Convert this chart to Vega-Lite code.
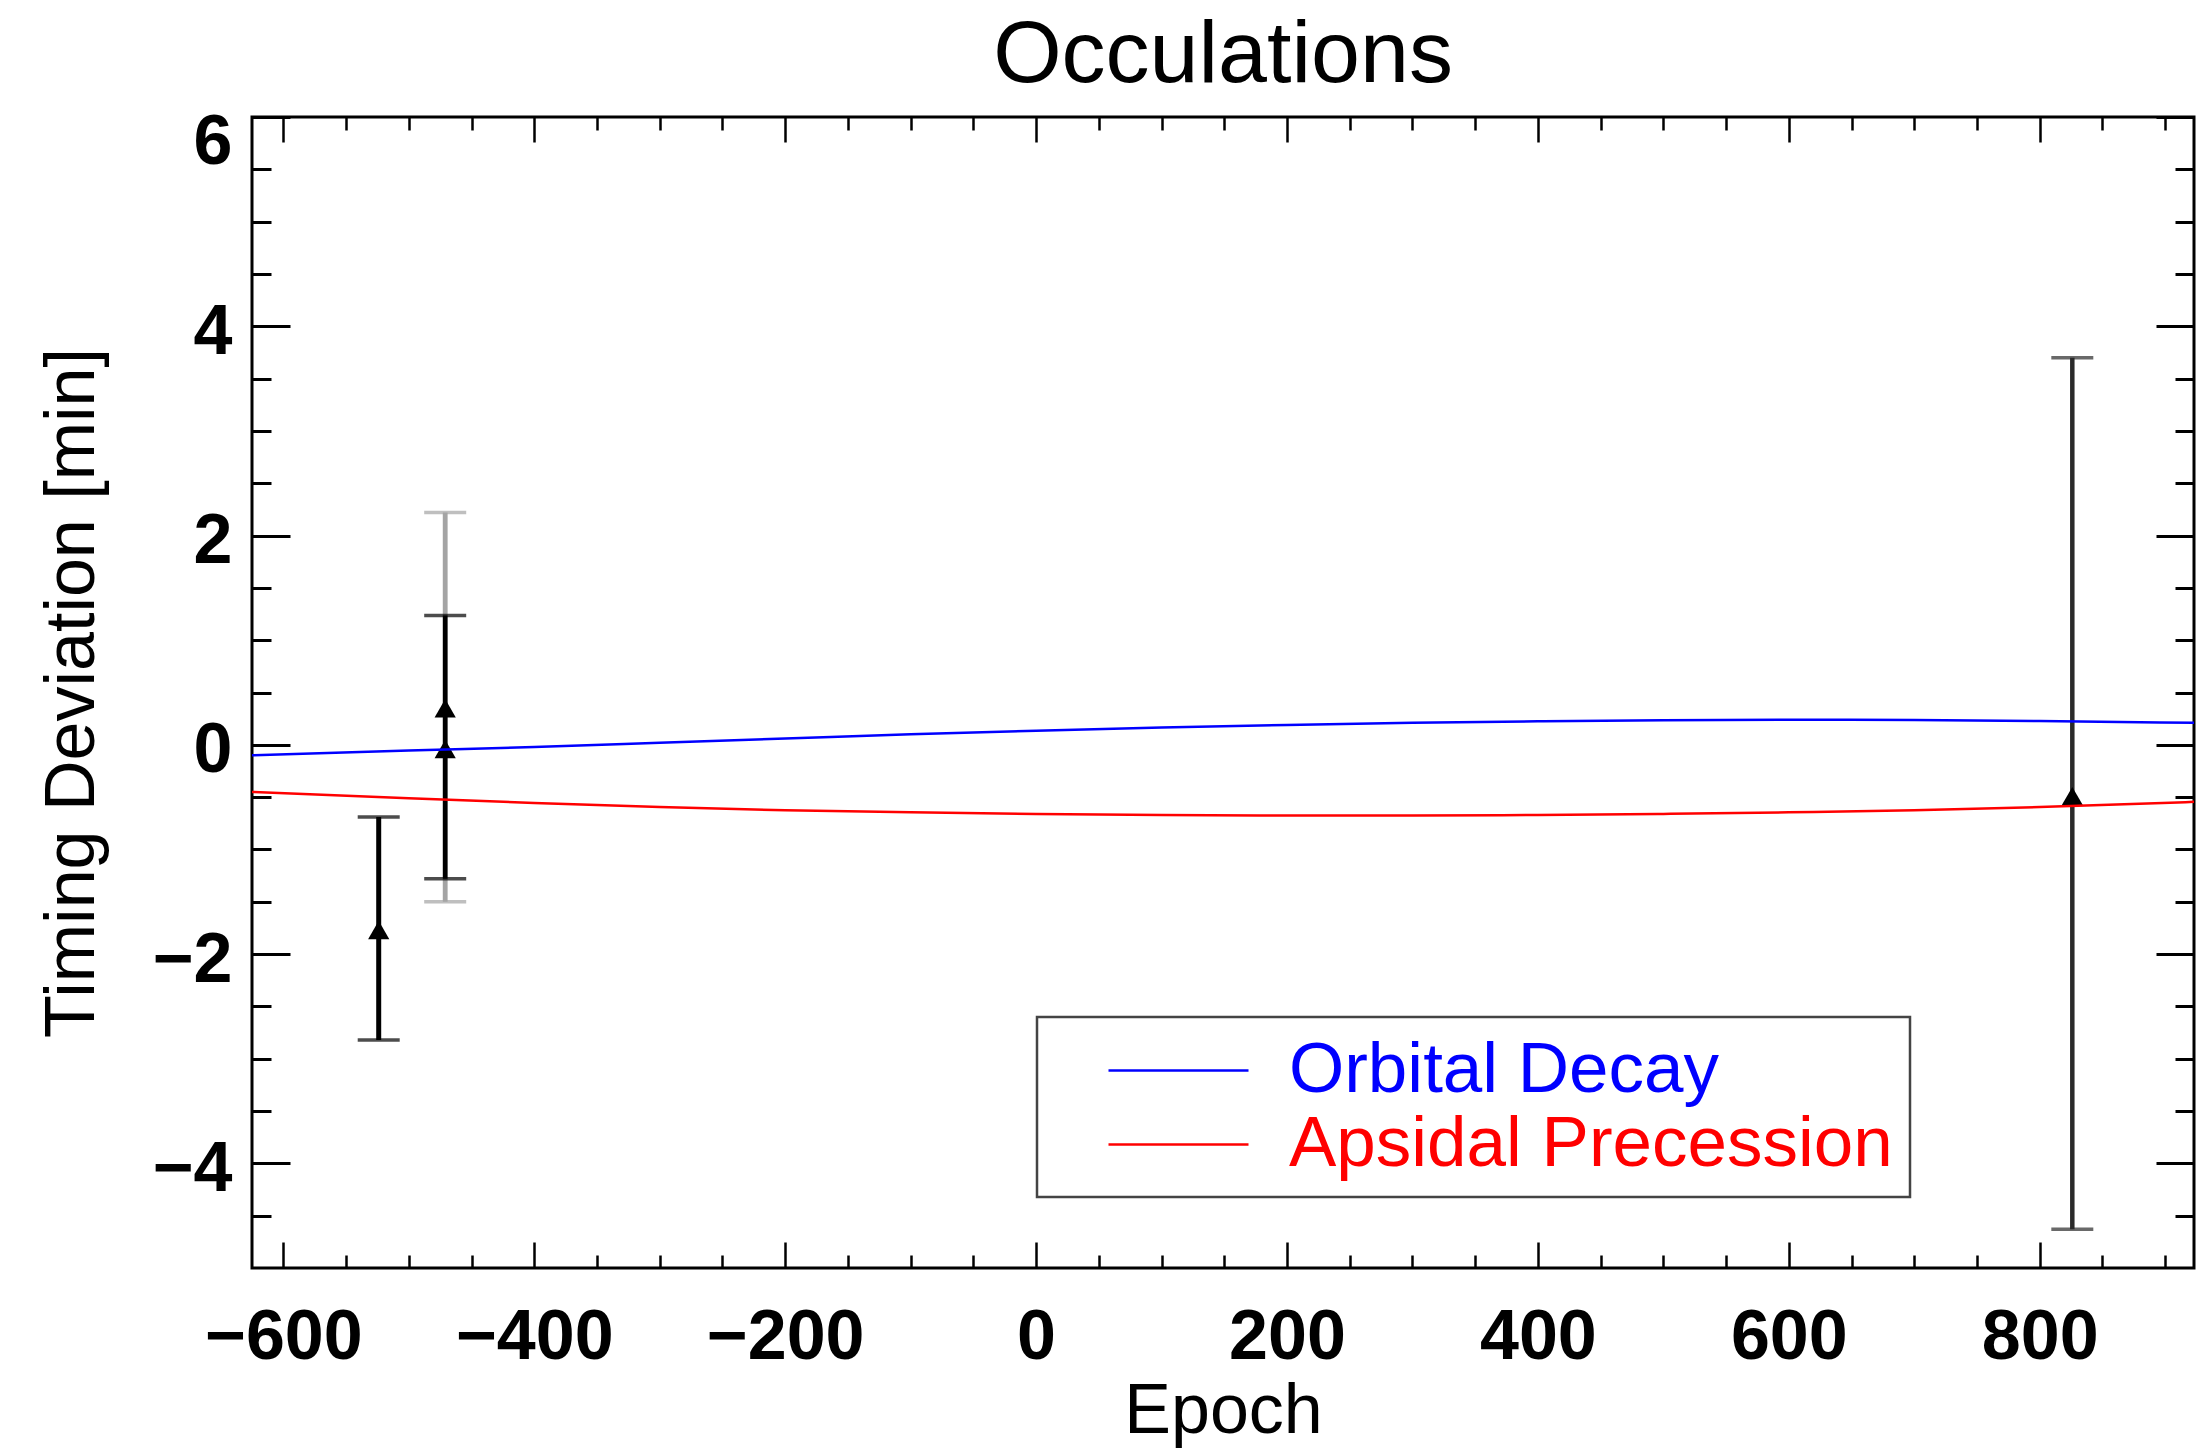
{
  "$schema": "https://vega.github.io/schema/vega-lite/v6.json",
  "width": 1942,
  "height": 1151,
  "autosize": {"type": "none"},
  "padding": {"left": 252, "top": 117, "right": 3, "bottom": 181},
  "background": "white",
  "title": {"text": "Occulations", "fontSize": 88, "font": "Liberation Sans", "fontWeight": "normal", "offset": 7, "anchor": "middle", "color": "#000"},
  "config": {
    "view": {"stroke": "#000", "strokeWidth": 3},
    "axis": {"grid": false, "domain": false, "tickColor": "#000", "labelFont": "Liberation Sans", "labelFontWeight": "bold", "labelFontSize": 70, "labelColor": "#000", "titleFont": "Liberation Sans", "titleFontWeight": "normal", "titleFontSize": 70, "titleColor": "#000", "labelOverlap": false, "minExtent": 0},
    "legend": {"strokeColor": "#444", "strokeWidth": 2.5, "padding": 17, "fillColor": "#fff"}
  },
  "datasets": {
    "err": [
      {"set": "S2g", "epoch": -471, "y": 0.35, "lo": -1.50, "hi": 2.22},
      {"set": "S1", "epoch": -524, "y": -1.77, "lo": -2.82, "hi": -0.69},
      {"set": "S2", "epoch": -471, "y": -0.04, "lo": -1.28, "hi": 1.235},
      {"set": "S3", "epoch": 826, "y": -0.49, "lo": -4.63, "hi": 3.70}
    ],
    "models": [
      {"series": "Orbital Decay", "epoch": -625, "dev": -0.10},
      {"series": "Orbital Decay", "epoch": -500, "dev": -0.055},
      {"series": "Orbital Decay", "epoch": -400, "dev": -0.02},
      {"series": "Orbital Decay", "epoch": -300, "dev": 0.02},
      {"series": "Orbital Decay", "epoch": -200, "dev": 0.06},
      {"series": "Orbital Decay", "epoch": -100, "dev": 0.10},
      {"series": "Orbital Decay", "epoch": 0, "dev": 0.135},
      {"series": "Orbital Decay", "epoch": 100, "dev": 0.165},
      {"series": "Orbital Decay", "epoch": 200, "dev": 0.19},
      {"series": "Orbital Decay", "epoch": 300, "dev": 0.21},
      {"series": "Orbital Decay", "epoch": 400, "dev": 0.225},
      {"series": "Orbital Decay", "epoch": 500, "dev": 0.235},
      {"series": "Orbital Decay", "epoch": 600, "dev": 0.24},
      {"series": "Orbital Decay", "epoch": 700, "dev": 0.238},
      {"series": "Orbital Decay", "epoch": 800, "dev": 0.228},
      {"series": "Orbital Decay", "epoch": 923, "dev": 0.21},
      {"series": "Apsidal Precession", "epoch": -625, "dev": -0.45},
      {"series": "Apsidal Precession", "epoch": -500, "dev": -0.51},
      {"series": "Apsidal Precession", "epoch": -400, "dev": -0.555},
      {"series": "Apsidal Precession", "epoch": -300, "dev": -0.595},
      {"series": "Apsidal Precession", "epoch": -200, "dev": -0.625},
      {"series": "Apsidal Precession", "epoch": -100, "dev": -0.645},
      {"series": "Apsidal Precession", "epoch": 0, "dev": -0.66},
      {"series": "Apsidal Precession", "epoch": 100, "dev": -0.67},
      {"series": "Apsidal Precession", "epoch": 200, "dev": -0.675},
      {"series": "Apsidal Precession", "epoch": 300, "dev": -0.675},
      {"series": "Apsidal Precession", "epoch": 400, "dev": -0.67},
      {"series": "Apsidal Precession", "epoch": 500, "dev": -0.66},
      {"series": "Apsidal Precession", "epoch": 600, "dev": -0.645},
      {"series": "Apsidal Precession", "epoch": 700, "dev": -0.625},
      {"series": "Apsidal Precession", "epoch": 800, "dev": -0.595},
      {"series": "Apsidal Precession", "epoch": 923, "dev": -0.545}
    ]
  },
  "resolve": {"axis": {"x": "independent", "y": "independent"}},
  "layer": [
    {
      "data": {"name": "err"},
      "mark": {"type": "rule"},
      "encoding": {
        "x": {"field": "epoch", "type": "quantitative", "scale": {"domain": [-625, 923], "nice": false, "zero": false},
          "axis": {"orient": "bottom", "values": [-550, -500, -450, -350, -300, -250, -150, -100, -50, 50, 100, 150, 250, 300, 350, 450, 500, 550, 650, 700, 750, 850, 900], "labels": false, "tickSize": -13, "tickWidth": 2.5, "title": null}},
        "y": {"field": "lo", "type": "quantitative", "scale": {"domain": [-5, 6], "nice": false, "zero": false},
          "axis": {"orient": "left", "values": [5.5, 5, 4.5, 3.5, 3, 2.5, 1.5, 1, 0.5, -0.5, -1, -1.5, -2.5, -3, -3.5, -4.5], "labels": false, "tickSize": -19, "tickWidth": 3, "title": null}},
        "y2": {"field": "hi"},
        "stroke": {"field": "set", "type": "nominal", "scale": {"domain": ["S1", "S2g", "S2", "S3"], "range": ["#000000", "#a4a4a4", "#000000", "#2a2a2a"]}, "legend": null},
        "strokeWidth": {"field": "set", "type": "nominal", "scale": {"domain": ["S1", "S2g", "S2", "S3"], "range": [5, 4.5, 3.5, 3]}, "legend": null}
      }
    },
    {
      "data": {"name": "err"},
      "transform": [{"fold": ["lo", "hi"], "as": ["end", "yv"]}],
      "mark": {"type": "tick", "orient": "horizontal", "size": 42, "thickness": 3.5},
      "encoding": {
        "x": {"field": "epoch", "type": "quantitative", "scale": {"domain": [-625, 923], "nice": false, "zero": false},
          "axis": {"orient": "top", "values": [-600, -400, -200, 0, 200, 400, 600, 800], "labels": false, "tickSize": -25, "tickWidth": 2.5, "title": null}},
        "y": {"field": "yv", "type": "quantitative", "scale": {"domain": [-5, 6], "nice": false, "zero": false},
          "axis": {"orient": "right", "values": [-4, -2, 0, 2, 4, 6], "labels": false, "tickSize": -38, "tickWidth": 3, "title": null}},
        "fill": {"field": "set", "type": "nominal", "scale": {"domain": ["S1", "S2g", "S2", "S3"], "range": ["#000000", "#a4a4a4", "#000000", "#2a2a2a"]}, "legend": null}
      }
    },
    {
      "data": {"name": "err"},
      "mark": {"type": "point", "shape": "triangle-up", "filled": true, "size": 450, "color": "#000", "opacity": 1},
      "encoding": {
        "x": {"field": "epoch", "type": "quantitative", "scale": {"domain": [-625, 923], "nice": false, "zero": false},
          "axis": {"orient": "top", "values": [-550, -500, -450, -350, -300, -250, -150, -100, -50, 50, 100, 150, 250, 300, 350, 450, 500, 550, 650, 700, 750, 850, 900], "labels": false, "tickSize": -13, "tickWidth": 2.5, "title": null}},
        "y": {"field": "y", "type": "quantitative", "scale": {"domain": [-5, 6], "nice": false, "zero": false},
          "axis": {"orient": "right", "values": [5.5, 5, 4.5, 3.5, 3, 2.5, 1.5, 1, 0.5, -0.5, -1, -1.5, -2.5, -3, -3.5, -4.5], "labels": false, "tickSize": -19, "tickWidth": 3, "title": null}}
      }
    },
    {
      "data": {"name": "models"},
      "mark": {"type": "line", "strokeWidth": 2.5, "interpolate": "monotone"},
      "encoding": {
        "x": {"field": "epoch", "type": "quantitative", "scale": {"domain": [-625, 923], "nice": false, "zero": false},
          "axis": {"orient": "bottom", "values": [-600, -400, -200, 0, 200, 400, 600, 800], "tickSize": -26, "tickWidth": 2.5, "labelPadding": 61, "title": "Epoch", "titlePadding": 5}},
        "y": {"field": "dev", "type": "quantitative", "scale": {"domain": [-5, 6], "nice": false, "zero": false},
          "axis": {"orient": "left", "values": [-4, -2, 0, 2, 4, 6], "tickSize": -38, "tickWidth": 3, "labelPadding": 58, "title": "Timing Deviation [min]", "titlePadding": 44,
            "labelBaseline": {"condition": {"test": "datum.value === 6", "value": "top"}, "value": "middle"},
            "labelOffset": {"condition": {"test": "datum.value === 6", "value": -9}, "value": 6}}},
        "color": {"field": "series", "type": "nominal", "scale": {"domain": ["Orbital Decay", "Apsidal Precession"], "range": ["#0000ff", "#ff0000"]},
          "legend": {"orient": "none", "legendX": 785, "legendY": 900, "title": null, "symbolType": "M-2,0H2", "symbolSize": 4900, "symbolStrokeWidth": 2.5, "symbolOffset": 88, "labelOffset": 74, "labelFontSize": 71, "labelFont": "Liberation Sans", "labelFontWeight": "normal", "rowPadding": 2, "labelLimit": 1000,
            "encode": {"labels": {"update": {"fill": {"scale": "color", "field": "value"}}}}}}
      }
    }
  ]
}
